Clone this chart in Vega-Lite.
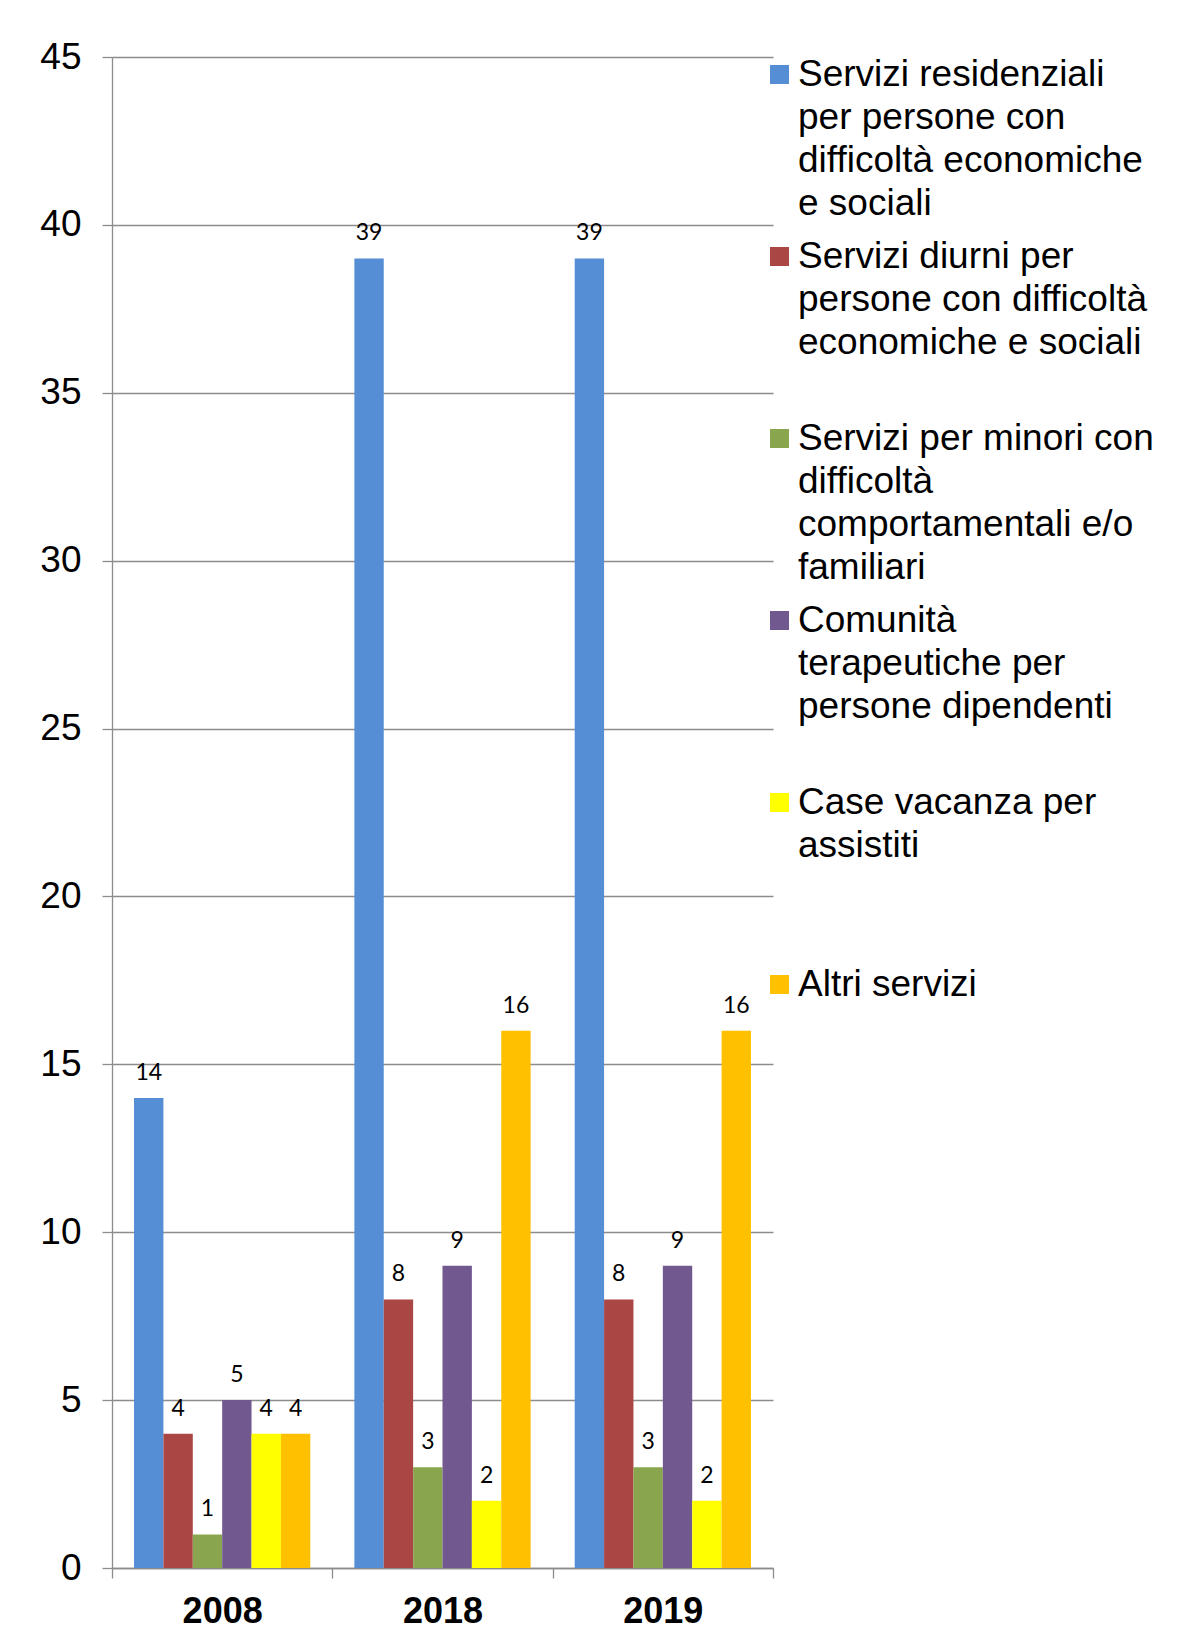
{
  "$schema": "https://vega.github.io/schema/vega-lite/v6.json",
  "width": 661,
  "height": 1511,
  "autosize": "none",
  "padding": {"left": 112, "top": 57, "right": 429, "bottom": 64},
  "background": "white",
  "config": {
    "view": {"stroke": null},
    "font": "Liberation Sans",
    "style": {"guide-label": {"lineHeight": 43}}
  },
  "data": {
    "values": [
      {"anno": "2008", "servizio": "Servizi residenziali per persone con difficoltà economiche e sociali", "valore": 14},
      {"anno": "2008", "servizio": "Servizi diurni per persone con difficoltà economiche e sociali", "valore": 4},
      {"anno": "2008", "servizio": "Servizi per minori con difficoltà comportamentali e/o familiari", "valore": 1},
      {"anno": "2008", "servizio": "Comunità terapeutiche per persone dipendenti", "valore": 5},
      {"anno": "2008", "servizio": "Case vacanza per assistiti", "valore": 4},
      {"anno": "2008", "servizio": "Altri servizi", "valore": 4},
      {"anno": "2018", "servizio": "Servizi residenziali per persone con difficoltà economiche e sociali", "valore": 39},
      {"anno": "2018", "servizio": "Servizi diurni per persone con difficoltà economiche e sociali", "valore": 8},
      {"anno": "2018", "servizio": "Servizi per minori con difficoltà comportamentali e/o familiari", "valore": 3},
      {"anno": "2018", "servizio": "Comunità terapeutiche per persone dipendenti", "valore": 9},
      {"anno": "2018", "servizio": "Case vacanza per assistiti", "valore": 2},
      {"anno": "2018", "servizio": "Altri servizi", "valore": 16},
      {"anno": "2019", "servizio": "Servizi residenziali per persone con difficoltà economiche e sociali", "valore": 39},
      {"anno": "2019", "servizio": "Servizi diurni per persone con difficoltà economiche e sociali", "valore": 8},
      {"anno": "2019", "servizio": "Servizi per minori con difficoltà comportamentali e/o familiari", "valore": 3},
      {"anno": "2019", "servizio": "Comunità terapeutiche per persone dipendenti", "valore": 9},
      {"anno": "2019", "servizio": "Case vacanza per assistiti", "valore": 2},
      {"anno": "2019", "servizio": "Altri servizi", "valore": 16}
    ]
  },
  "encoding": {
    "x": {
      "field": "anno",
      "type": "nominal",
      "scale": {"paddingInner": 0, "paddingOuter": 0},
      "axis": {
        "title": null,
        "labelAngle": 0,
        "labelFont": "Liberation Sans",
        "labelFontWeight": "bold",
        "labelFontSize": 36,
        "labelColor": "black",
        "labelPadding": 16,
        "tickBand": "extent",
        "tickSize": 10,
        "tickColor": "#8c8c8c",
        "tickWidth": 1.3,
        "domainColor": "#8c8c8c",
        "domainWidth": 1.3,
        "grid": false
      }
    },
    "xOffset": {
      "field": "servizio",
      "type": "nominal",
      "sort": [
        "Servizi residenziali per persone con difficoltà economiche e sociali",
        "Servizi diurni per persone con difficoltà economiche e sociali",
        "Servizi per minori con difficoltà comportamentali e/o familiari",
        "Comunità terapeutiche per persone dipendenti",
        "Case vacanza per assistiti",
        "Altri servizi"
      ],
      "scale": {"paddingInner": 0, "paddingOuter": 0.75}
    },
    "y": {
      "field": "valore",
      "type": "quantitative",
      "scale": {"domain": [0, 45], "nice": false},
      "axis": {
        "title": null,
        "values": [0, 5, 10, 15, 20, 25, 30, 35, 40, 45],
        "labelFont": "Liberation Sans",
        "labelFontSize": 37,
        "labelColor": "black",
        "labelPadding": 21,
        "tickSize": 10,
        "tickColor": "#8c8c8c",
        "tickWidth": 1.3,
        "domainColor": "#8c8c8c",
        "domainWidth": 1.3,
        "gridColor": "#8c8c8c",
        "gridWidth": 1.3
      }
    }
  },
  "layer": [
    {
      "mark": {"type": "bar"},
      "encoding": {
        "color": {
          "field": "servizio",
          "type": "nominal",
          "scale": {
            "domain": [
              "Servizi residenziali per persone con difficoltà economiche e sociali",
              "Servizi diurni per persone con difficoltà economiche e sociali",
              "Servizi per minori con difficoltà comportamentali e/o familiari",
              "Comunità terapeutiche per persone dipendenti",
              "Case vacanza per assistiti",
              "Altri servizi"
            ],
            "range": ["#558ED5", "#AA4643", "#89A54E", "#71588F", "#FFFF00", "#FFC000"]
          },
          "legend": {
            "orient": "none",
            "legendX": 649,
            "legendY": -1,
            "title": null,
            "symbolType": "square",
            "symbolSize": 361,
            "symbolStrokeWidth": 0,
            "symbolOpacity": 1,
            "labelFont": "Liberation Sans",
            "labelFontSize": 37,
            "labelColor": "black",
            "labelLimit": 600,
            "labelOffset": 0,
            "rowPadding": 15,
            "labelExpr": "datum.label == 'Servizi residenziali per persone con difficoltà economiche e sociali' ? ['Servizi residenziali', 'per persone con', 'difficoltà economiche', 'e sociali'] : datum.label == 'Servizi diurni per persone con difficoltà economiche e sociali' ? ['Servizi diurni per', 'persone con difficoltà', 'economiche e sociali', ''] : datum.label == 'Servizi per minori con difficoltà comportamentali e/o familiari' ? ['Servizi per minori con', 'difficoltà', 'comportamentali e/o', 'familiari'] : datum.label == 'Comunità terapeutiche per persone dipendenti' ? ['Comunità', 'terapeutiche per', 'persone dipendenti', ''] : datum.label == 'Case vacanza per assistiti' ? ['Case vacanza per', 'assistiti', '', ''] : ['Altri servizi', '', '', '']"
          }
        }
      }
    },
    {
      "mark": {"type": "text", "baseline": "alphabetic", "dy": -18, "font": "Lato", "fontSize": 23, "color": "black"},
      "encoding": {"text": {"field": "valore", "type": "quantitative"}}
    }
  ]
}
